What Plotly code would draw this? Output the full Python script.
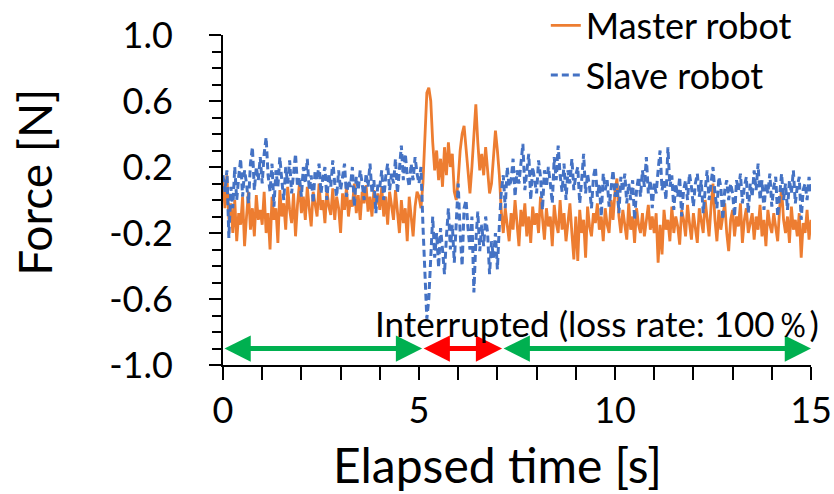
import numpy as np
import plotly.graph_objects as go

# Master robot force [N], sampled every 0.05 s (0..15 s)
master = (
    [0.12, -0.05, 0.15, -0.12, -0.02, -0.2, 0.0, -0.25, -0.08, -0.15, 0.02, -0.28, -0.1, 0.05, -0.18, -0.05, -0.22, 0.03, -0.12, -0.06]
    + [-0.15, 0.05, -0.2, -0.08, -0.3, 0.02, -0.12, -0.05, -0.26, 0.06, -0.1, -0.02, -0.18, 0.08, -0.06, -0.14, 0.04, -0.22, -0.03, 0.1]
    + [-0.08, 0.02, -0.12, 0.08, -0.05, -0.16, 0.05, -0.02, -0.1, 0.1, -0.06, 0.0, -0.14, 0.06, -0.04, -0.09, 0.07, -0.12, 0.02, -0.05]
    + [-0.2, 0.04, -0.06, 0.08, -0.1, 0.0, -0.04, 0.1, -0.08, 0.03, -0.12, 0.05, -0.02, 0.09, -0.07, 0.02, -0.1, 0.06, -0.03, 0.04]
    + [-0.06, 0.08, -0.1, 0.02, -0.15, 0.05, -0.04, -0.12, 0.06, -0.08, -0.2, 0.0, -0.14, -0.05, -0.25, 0.02, -0.1, -0.22, -0.04, 0.05]
    + [0.02, -0.05, 0.1, 0.4, 0.65, 0.68, 0.6, 0.35, 0.18, 0.3, 0.12, 0.25, 0.08, 0.32, 0.15, 0.35, 0.2, 0.28, 0.05, 0.0]
    + [0.12, 0.3, 0.4, 0.45, 0.3, 0.15, 0.04, 0.2, 0.4, 0.58, 0.35, 0.18, 0.28, 0.15, 0.32, 0.2, 0.04, 0.1, 0.25, 0.42]
    + [0.3, 0.15, -0.07, -0.2, -0.05, -0.15, -0.25, -0.08, -0.18, 0.0, -0.14, -0.28, -0.06, -0.16, -0.02, -0.22, -0.1, -0.26, -0.04, -0.15]
    + [-0.08, -0.2, 0.02, -0.12, -0.24, -0.05, -0.16, -0.1, -0.28, -0.03, -0.14, -0.2, 0.0, -0.18, -0.08, -0.25, -0.12, -0.02, -0.2, -0.36]
    + [-0.1, -0.37, -0.06, -0.2, -0.12, -0.35, -0.04, -0.16, -0.22, -0.08, -0.14, -0.02, -0.18, -0.1, -0.25, -0.05, -0.15, -0.2, 0.0, -0.12]
    + [0.05, 0.13, -0.1, -0.2, -0.06, -0.14, -0.24, -0.02, -0.18, -0.1, -0.26, -0.05, -0.15, -0.2, -0.08, -0.22, -0.12, -0.03, -0.18, -0.1]
    + [-0.2, -0.08, -0.38, -0.15, -0.33, -0.06, -0.18, -0.12, -0.25, -0.04, -0.2, -0.1, -0.16, -0.27, -0.06, -0.12, -0.22, -0.03, -0.14, -0.24]
    + [-0.08, -0.18, -0.26, -0.05, -0.14, -0.2, 0.0, -0.1, -0.22, -0.04, 0.1, -0.12, -0.25, -0.06, -0.18, -0.1, -0.02, -0.2, -0.31, -0.12]
    + [-0.06, -0.22, -0.1, -0.16, -0.02, -0.26, -0.12, -0.05, -0.2, -0.14, -0.08, -0.24, -0.1, -0.18, -0.03, -0.22, -0.12, -0.28, -0.06, -0.15]
    + [-0.2, -0.08, -0.16, -0.25, -0.05, 0.07, -0.12, -0.2, -0.1, -0.26, -0.04, -0.18, -0.12, -0.22, -0.08, -0.35, -0.14, -0.2, -0.06, -0.24, -0.12]
)

# Slave robot force [N]
slave = (
    [0.15, 0.05, 0.18, -0.23, 0.08, -0.05, 0.2, 0.0, 0.14, 0.25, 0.02, 0.18, 0.1, -0.02, 0.22, 0.32, 0.06, 0.2, 0.12, 0.26]
    + [0.1, 0.28, 0.38, 0.15, 0.05, 0.22, -0.04, 0.18, 0.08, 0.26, 0.12, 0.0, 0.2, 0.1, 0.24, 0.04, 0.16, 0.28, 0.08, 0.14]
    + [0.02, 0.2, 0.1, 0.25, 0.06, 0.15, -0.02, 0.18, 0.12, 0.22, 0.04, 0.14, 0.2, 0.0, 0.16, 0.08, 0.24, 0.1, 0.02, 0.18]
    + [0.06, 0.15, 0.22, 0.02, 0.12, 0.08, 0.2, -0.04, 0.14, 0.06, 0.18, 0.1, 0.0, 0.16, 0.08, 0.22, 0.04, 0.12, -0.08, 0.1]
    + [0.08, 0.18, 0.0, 0.14, 0.22, 0.06, 0.16, 0.1, 0.25, 0.04, 0.2, 0.33, 0.12, 0.28, 0.15, 0.08, 0.22, 0.12, 0.26, 0.16]
    + [0.1, 0.2, -0.15, -0.5, -0.72, -0.6, -0.3, -0.1, -0.35, -0.2, -0.41, -0.17, -0.3, -0.45, -0.22, -0.05, -0.3, -0.15, -0.38, -0.1]
    + [0.1, -0.2, -0.4, -0.05, 0.0, -0.17, -0.3, -0.1, -0.56, -0.25, -0.07, -0.31, -0.15, -0.28, -0.1, -0.2, -0.45, -0.25, -0.35, -0.2]
    + [-0.42, -0.15, 0.05, 0.15, -0.05, 0.2, 0.08, 0.12, 0.25, 0.02, 0.18, 0.1, 0.22, 0.34, 0.06, 0.16, 0.28, 0.0, 0.2, 0.12]
    + [0.04, 0.24, 0.14, -0.06, 0.18, 0.08, 0.2, 0.1, -0.02, 0.26, 0.12, 0.33, 0.15, 0.05, 0.22, 0.0, 0.18, 0.1, 0.25, 0.06]
    + [0.15, 0.2, -0.02, 0.12, 0.28, 0.04, 0.16, 0.08, -0.05, 0.14, 0.2, 0.02, 0.1, -0.1, 0.16, 0.06, 0.12, -0.04, 0.08, 0.18]
    + [0.02, 0.1, -0.08, 0.14, 0.05, 0.16, -0.02, 0.1, 0.0, 0.12, -0.12, 0.06, 0.14, 0.02, 0.18, 0.08, 0.26, 0.04, 0.12, -0.05]
    + [0.1, 0.04, 0.18, 0.3, 0.06, 0.12, 0.0, 0.32, 0.08, 0.15, -0.06, 0.1, 0.02, 0.14, -0.1, 0.06, 0.12, 0.0, 0.16, 0.08]
    + [-0.04, 0.1, 0.16, 0.02, 0.12, -0.08, 0.06, 0.18, 0.0, 0.1, 0.2, 0.04, -0.05, 0.14, 0.08, -0.12, 0.06, 0.12, 0.0, 0.1]
    + [0.04, -0.1, 0.12, 0.06, 0.16, -0.02, 0.08, 0.14, -0.08, 0.1, 0.02, 0.18, 0.06, 0.22, 0.0, 0.12, -0.06, 0.1, 0.04, 0.16]
    + [-0.04, 0.08, 0.14, -0.1, 0.06, 0.16, 0.0, 0.1, -0.06, 0.12, 0.04, 0.18, -0.02, 0.08, 0.14, -0.12, 0.06, 0.1, 0.0, 0.14, 0.05]
)

sample_dt = 0.05
time_s = [round(i * sample_dt, 2) for i in range(len(master))]

# Y tick labels (ASCII hyphen as in the original)
y_tickvals = [-1.0, -0.6, -0.2, 0.2, 0.6, 1.0]
y_ticktext = ["-1.0", "-0.6", "-0.2", "0.2", "0.6", "1.0"]

# Phase markers (s): normal / interrupted / normal
phase_bounds = [0.0, 5.08, 7.12, 15.0]
phase_colors = ["#00B050", "#FF0000", "#00B050"]
phase_y = -0.9
note_text = "Interrupted (loss rate: 100％)"
x_title = "Elapsed time [s]"
y_title = "Force [N]"

FONT = "Lato, 'Noto Sans', sans-serif"

fig = go.Figure()
fig.add_trace(go.Scatter(x=time_s, y=master, mode="lines", name="Master robot",
                         line=dict(color="#ED7D31", width=2.8)))
fig.add_trace(go.Scatter(x=time_s[:len(slave)], y=slave, mode="lines", name="Slave robot",
                         line=dict(color="#4472C4", width=3, dash="7px,4px")))

for i, c in enumerate(phase_colors):
    fig.add_annotation(x=phase_bounds[i + 1], y=phase_y, ax=phase_bounds[i], ay=phase_y,
                       xref="x", yref="y", axref="x", ayref="y", text="",
                       showarrow=True, arrowhead=2, startarrowhead=2, arrowside="end+start",
                       arrowwidth=5, arrowsize=1.05, startarrowsize=1.05, arrowcolor=c)

fig.add_annotation(x=9.54, y=-0.748, xref="x", yref="y", text=note_text, showarrow=False,
                   font=dict(size=35, color="black", family=FONT), xanchor="center", yanchor="middle")

# axis titles (placed as in the original layout)
fig.add_annotation(x=0.466, y=-0.3, xref="paper", yref="paper", text=x_title, showarrow=False,
                   font=dict(size=48, color="black", family=FONT), xanchor="center", yanchor="middle")
fig.add_annotation(x=-0.322, y=0.5545, xref="paper", yref="paper", text=y_title, showarrow=False,
                   textangle=-90, font=dict(size=46, color="black", family=FONT),
                   xanchor="center", yanchor="middle")

fig.update_layout(
    width=834, height=494,
    margin=dict(l=223, r=23, t=35, b=129, autoexpand=False),
    paper_bgcolor="white", plot_bgcolor="white",
    font=dict(family=FONT, color="black"),
    showlegend=True,
    legend=dict(x=0.549, y=1.12, xanchor="left", yanchor="top", font=dict(size=36),
                bgcolor="rgba(0,0,0,0)", tracegroupgap=0),
    xaxis=dict(range=[0, 15], dtick=5, tick0=0, showline=True, linecolor="black", linewidth=2,
               ticks="outside", ticklen=13, tickwidth=2, tickcolor="black",
               minor=dict(dtick=1, ticks="outside", ticklen=13, tickwidth=2, tickcolor="black"),
               showgrid=False, zeroline=False, tickfont=dict(size=36)),
    yaxis=dict(range=[-1, 1], tickvals=y_tickvals, ticktext=y_ticktext, showline=True,
               linecolor="black", linewidth=2,
               ticks="outside", ticklen=12, tickwidth=2, tickcolor="black",
               minor=dict(dtick=0.1, ticks="outside", ticklen=9, tickwidth=2, tickcolor="black"),
               showgrid=False, zeroline=False, tickfont=dict(size=36),
               ticklabelstandoff=29),
)

fig.write_html("out.html")
